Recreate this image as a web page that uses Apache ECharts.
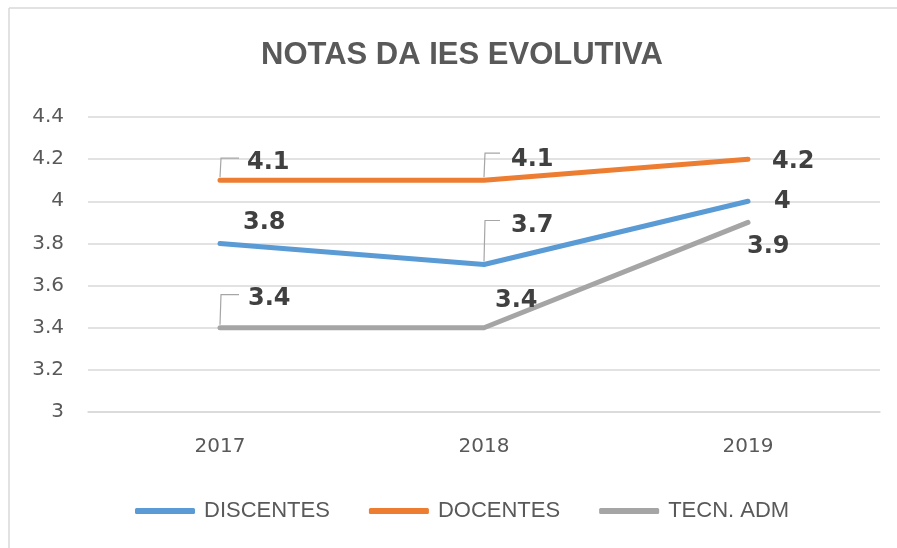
<!DOCTYPE html>
<html>
<head>
<meta charset="utf-8">
<script src="https://cdn.jsdelivr.net/npm/echarts@6/dist/echarts.min.js"></script>
<style>html,body{margin:0;padding:0;background:#fff;}#c{width:897px;height:548px;}</style>
</head>
<body>
<div id="c"></div>
<script>
// ---- data ----
const categories = ['2017', '2018', '2019'];
const discentes = [3.8, 3.7, 4];
const docentes = [4.1, 4.1, 4.2];
const tecnAdm = [3.4, 3.4, 3.9];
const seriesNames = ['DISCENTES', 'DOCENTES', 'TECN. ADM'];
const yTicks = { min: 3, max: 4.4, interval: 0.2 };
const titleText = 'NOTAS DA IES EVOLUTIVA';

// ---- style / layout config ----
const colors = ['#5B9BD5', '#ED7D31', '#A5A5A5'];
const FONT = 'DejaVu Sans';
const FONT2 = 'Liberation Sans';
// label offsets (px) relative to the point, per series, per category
const labelOffsets = [
  [[23, -21], [27, -39], [26, 0]],
  [[27, -17], [27, -20], [24, 3]],
  [[28, -29], [11, -27], [-1, 24]]
];
// leader lines: [seriesIdx, categoryIdx, riseY, runX]
const leaderDefs = [
  [1, 0, -22, 19],
  [1, 1, -27, 16],
  [0, 1, -44, 16],
  [2, 0, -33, 19]
];

const allValues = [discentes, docentes, tecnAdm];

const lineSeries = allValues.map((vals, si) => ({
  name: seriesNames[si],
  type: 'line',
  data: vals,
  symbol: 'circle',
  symbolSize: 2,
  showSymbol: true,
  itemStyle: { color: colors[si] },
  lineStyle: { width: 5, color: colors[si], cap: 'round', join: 'round' },
  emphasis: { disabled: true },
  z: 3,
  label: {
    show: true,
    position: 'inside',
    align: 'left',
    verticalAlign: 'middle',
    fontFamily: FONT,
    fontWeight: 'bold',
    fontSize: 24,
    color: '#404040'
  },
  labelLayout: function (params) {
    const off = labelOffsets[si][params.dataIndex];
    return { dx: off[0], dy: off[1] };
  }
}));

const leaderData = leaderDefs.map(d => [d[1], allValues[d[0]][d[1]], d[2], d[3]]);

const leaderSeries = {
  type: 'custom',
  name: 'leaders',
  silent: true,
  z: 4,
  data: leaderData,
  renderItem: function (params, api) {
    const p = api.coord([api.value(0), api.value(1)]);
    const rise = api.value(2), run = api.value(3);
    return {
      type: 'polyline',
      shape: { points: [[p[0], p[1] - 3], [p[0] + 1, p[1] + rise], [p[0] + run, p[1] + rise]] },
      style: { stroke: '#A6A6A6', lineWidth: 1.2, fill: null }
    };
  }
};

const chart = echarts.init(document.getElementById('c'), null, { renderer: 'canvas' });
chart.setOption({
  animation: false,
  backgroundColor: '#fff',
  graphic: [
    { type: 'line', shape: { x1: 9, y1: 8, x2: 897, y2: 8 }, style: { stroke: '#D9D9D9', lineWidth: 1.5 }, silent: true, z: -10 },
    { type: 'line', shape: { x1: 9, y1: 8, x2: 9, y2: 548 }, style: { stroke: '#D9D9D9', lineWidth: 1.5 }, silent: true, z: -10 }
  ],
  title: {
    text: titleText,
    left: 261,
    top: 40,
    padding: 0,
    textStyle: { fontFamily: FONT2, fontWeight: 'bold', fontSize: 31, color: '#595959' }
  },
  legend: {
    data: seriesNames,
    bottom: 26,
    left: 135,
    padding: 0,
    itemWidth: 60,
    itemHeight: 6,
    itemGap: 39,
    icon: 'roundRect',
    textStyle: { fontFamily: FONT2, fontSize: 22, color: '#595959', padding: [0, 0, 0, 4] }
  },
  grid: { left: 88, right: 17, top: 117, bottom: 136, containLabel: false },
  xAxis: {
    type: 'category',
    data: categories,
    boundaryGap: true,
    axisLine: { show: true, lineStyle: { color: '#D9D9D9', width: 1.5 } },
    axisTick: { show: false },
    axisLabel: { margin: 25, fontFamily: FONT, fontSize: 20, color: '#595959' }
  },
  yAxis: {
    type: 'value',
    min: yTicks.min,
    max: yTicks.max,
    interval: yTicks.interval,
    axisLine: { show: false },
    axisTick: { show: false },
    splitLine: { lineStyle: { color: '#D9D9D9', width: 1.5 } },
    axisLabel: { margin: 24, fontFamily: FONT, fontSize: 20, color: '#595959' }
  },
  series: [...lineSeries, leaderSeries]
});
</script>
</body>
</html>
